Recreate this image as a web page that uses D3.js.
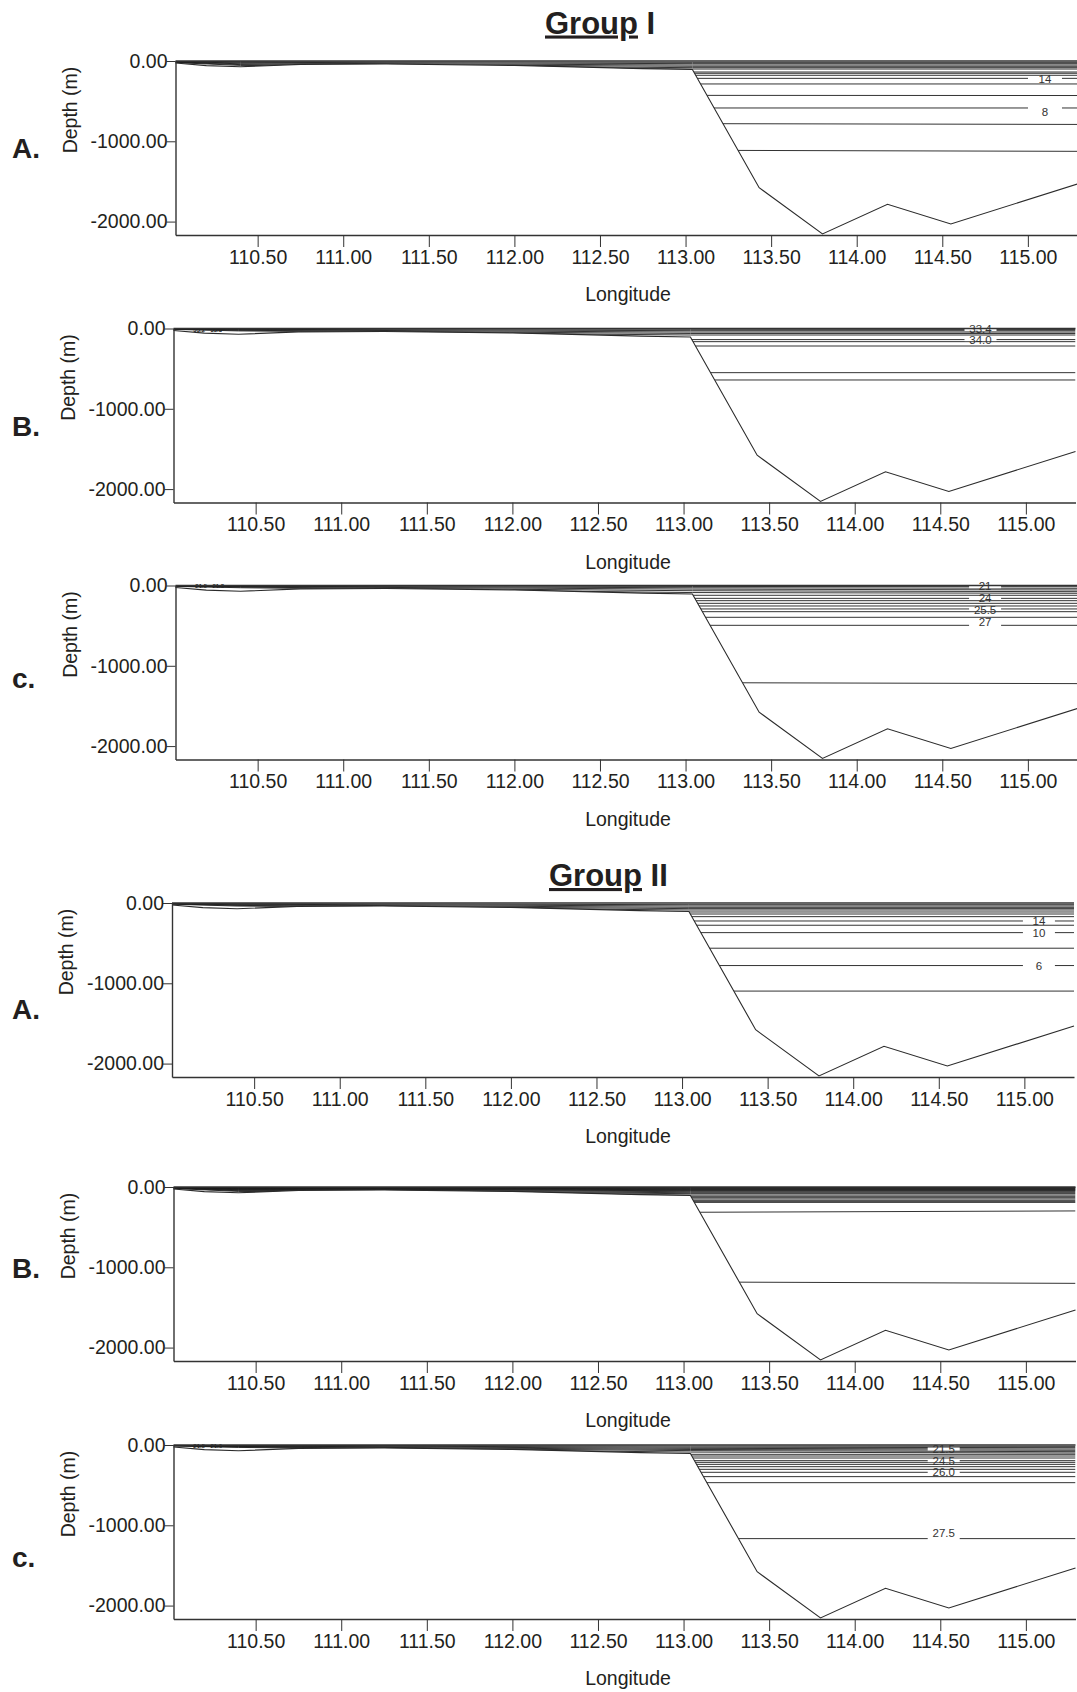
<!DOCTYPE html>
<meta charset="utf-8">
<style>
  body { margin: 0; background: #fff; }
  svg { font-family: "Liberation Sans", Arial, sans-serif; }
  .contour { fill: none; stroke: #1c1c1c; stroke-width: 0.9; }
  .bottom { fill: none; stroke: #2b2b2b; stroke-width: 1.1; }
  .surface { fill: none; stroke: #333; stroke-width: 1.4; }
  .axis path { stroke: #333; stroke-width: 1.4; }
  .axis line { stroke: #333; stroke-width: 1; }
  .axis text { fill: #231f20; font-size: 19.5px; }
  .clabel { font-size: 11.5px; fill: #333; }
</style>
<svg width="1077" height="1692"></svg>
<script src="https://d3js.org/d3.v7.min.js"></script>
<script>

// bathymetry along the section (same for every panel)
var bathyLon   = [110.02, 110.2, 110.4, 110.75, 111.25, 112.0, 112.75, 113.04, 113.43, 113.80, 114.18, 114.55, 115.29];
var bathyDepth = [-25, -58, -72, -42, -38, -55, -95, -105, -1578, -2154, -1785, -2030, -1532];

// contour depths read at these longitudes
var contourLon = [110.02, 110.4, 113.04, 115.29];

var xTicks = [110.5, 111, 111.5, 112, 112.5, 113, 113.5, 114, 114.5, 115];
var yTicks = [0, -1000, -2000];

// Group I
var tempI = [
  [-3, -8, -17, -17], [-6, -16, -33, -33], [-9, -25, -50, -50], [-12, -35, -66, -66],
  [-16, -45, -83, -83], [-20, -55, -100, -100],
  [-137, -137, -137, -137], [-153, -153, -153, -153], [-178, -178, -178, -178],
  [-216, -216, -216, -216], [-286, -286, -286, -286], [-428, -428, -428, -430],
  [-585, -585, -585, -585], [-780, -780, -780, -790], [-1112, -1112, -1112, -1125]
];
var tempILabels = [["14", -226, -216], ["8", -630, -585]];

var salI = [
  [-3, -5, -10, -12], [-5, -10, -27, -27], [-7, -16, -44, -44], [-9, -22, -62, -62],
  [-11, -30, -81, -81],
  [-138, -138, -138, -138], [-164, -164, -164, -164], [-218, -218, -218, -218],
  [-550, -550, -550, -550], [-641, -641, -641, -641]
];
var salILabels = [["33.4", -8, -12], ["34.0", -140, -138]];
var salITiny = [["33.2", 110.17, -12], ["33.3", 110.27, -12]];

var densI = [
  [-2, -4, -12, -15], [-4, -9, -28, -35], [-6, -14, -45, -56], [-8, -20, -65, -77],
  [-11, -28, -88, -97],
  [-122, -122, -122, -122], [-160, -160, -160, -160], [-189, -189, -189, -189],
  [-222, -222, -222, -222], [-255, -255, -255, -255], [-292, -292, -292, -292],
  [-326, -326, -326, -326], [-396, -396, -396, -396], [-496, -496, -496, -496],
  [-1210, -1210, -1210, -1222]
];
var densILabels = [["21", -10, -15], ["24", -152, -160], ["25.5", -300, -292], ["27", -458, -496]];
var densITiny = [["21.5", 110.17, -10], ["21.8", 110.27, -10]];

// Group II
var tempII = [
  [-3, -8, -21, -21], [-6, -15, -37, -37], [-9, -22, -54, -54], [-12, -30, -70, -70],
  [-15, -38, -87, -87],
  [-112, -112, -112, -112], [-137, -137, -137, -137], [-170, -170, -170, -170],
  [-224, -224, -224, -224], [-277, -277, -277, -277], [-369, -369, -369, -369],
  [-563, -563, -563, -563], [-779, -779, -779, -779], [-1097, -1097, -1097, -1097]
];
var tempIILabels = [["14", -224, -224], ["10", -369, -369], ["6", -790, -779]];

var salII = [
  [-1, -4, -5, -5], [-2, -7, -9, -9], [-3, -10, -14, -14], [-4, -13, -21, -21],
  [-5, -17, -27, -27], [-6, -21, -33, -33], [-8, -25, -40, -40], [-9, -29, -46, -46],
  [-11, -34, -58, -58], [-13, -40, -71, -71], [-15, -47, -83, -83], [-18, -55, -100, -100],
  [-116, -116, -116, -116], [-133, -133, -133, -133], [-149, -149, -149, -149],
  [-166, -166, -166, -166], [-183, -183, -183, -183], [-191, -191, -191, -191],
  [-315, -315, -315, -298], [-1183, -1183, -1183, -1200]
];

var densII = [
  [-2, -4, -14, -17], [-4, -8, -28, -33], [-6, -13, -42, -50], [-8, -18, -56, -66],
  [-10, -24, -70, -83], [-12, -30, -88, -100],
  [-116, -116, -116, -116], [-137, -137, -137, -137], [-162, -162, -162, -162],
  [-195, -195, -195, -195], [-216, -216, -216, -216], [-241, -241, -241, -241],
  [-270, -270, -270, -270], [-303, -303, -303, -303], [-340, -340, -340, -340],
  [-394, -394, -394, -394], [-469, -469, -469, -469], [-1166, -1166, -1166, -1166]
];
var densIILabels = [["21.5", -50, -50], ["24.5", -195, -195], ["26.0", -340, -340], ["27.5", -1100, -1166]];
var densIITiny = [["21.5", 110.17, -10], ["21.6", 110.27, -10]];

var titles = [["Group", " I", 545, 33.5], ["Group", " II", 549, 886]];

var panels = [
  {top: 61,    shift: 0.5,  letter: "A.", letterY: 158,  lines: tempI,  labels: tempILabels,  labelLon: 115.10, gap: 34, tiny: []},
  {top: 328.5, shift: -1.5, letter: "B.", letterY: 436,  lines: salI,   labels: salILabels,   labelLon: 114.735, gap: 32, tiny: salITiny},
  {top: 585.5, shift: 0.5,  letter: "c.", letterY: 688,  lines: densI,  labels: densILabels,  labelLon: 114.75, gap: 32, tiny: densITiny},
  {top: 903,   shift: -3,   letter: "A.", letterY: 1019, lines: tempII, labels: tempIILabels, labelLon: 115.085, gap: 32, tiny: []},
  {top: 1187,  shift: -1.5, letter: "B.", letterY: 1278, lines: salII,  labels: [],           labelLon: 115, gap: 32, tiny: []},
  {top: 1445,  shift: -1.5, letter: "c.", letterY: 1567, lines: densII, labels: densIILabels, labelLon: 114.52, gap: 32, tiny: densIITiny}
];

var svg = d3.select("svg");
var plotH = 174;
var fmt = function(d) { return d.toFixed(2); };

titles.forEach(function(t) {
  var tx = svg.append("text")
      .attr("x", t[2]).attr("y", t[3])
      .style("font-size", "31px").style("font-weight", "bold").attr("fill", "#231f20");
  tx.append("tspan").attr("text-decoration", "underline").text(t[0]);
  tx.append("tspan").text(t[1]);
});

var bathy = d3.zip(bathyLon, bathyDepth);

panels.forEach(function(p, i) {
  var x = d3.scaleLinear().domain([110.02, 115.29]).range([175 + p.shift, 1077 + p.shift]),
      y = d3.scaleLinear().domain([0, -2167]).range([p.top, p.top + plotH]),
      g = svg.append("g");

  var water = d3.area()
      .x(function(d) { return x(d[0]); })
      .y0(y(0))
      .y1(function(d) { return y(d[1]); });
  var line = d3.line()
      .x(function(d) { return x(d[0]); })
      .y(function(d) { return y(d[1]); });

  g.append("clipPath").attr("id", "water" + i)
    .append("path").attr("d", water(bathy));

  var cg = g.append("g").attr("clip-path", "url(#water" + i + ")");
  cg.selectAll("path.contour")
    .data(p.lines)
    .join("path")
      .attr("class", "contour")
      .attr("d", function(d) { return line(d3.zip(contourLon, d)); });

  // contour labels: break the labelled line, then write the value
  p.labels.forEach(function(l) {
    cg.append("rect")
        .attr("x", x(p.labelLon) - p.gap / 2)
        .attr("y", y(l[2]) - 1.5)
        .attr("width", p.gap).attr("height", 3)
        .attr("fill", "#fff");
    g.append("text")
        .attr("class", "clabel")
        .attr("x", x(p.labelLon)).attr("y", y(l[1]))
        .attr("dy", "0.35em")
        .attr("text-anchor", "middle")
        .text(l[0]);
  });

  p.tiny.forEach(function(l) {
    g.append("text")
        .attr("x", x(l[1])).attr("y", y(l[2]))
        .attr("dy", "0.35em").attr("text-anchor", "middle")
        .style("font-size", "6px").style("font-weight", "bold")
        .attr("fill", "#222")
        .text(l[0]);
  });

  g.append("path")
      .attr("class", "bottom")
      .attr("d", line(bathy));

  g.append("path")
      .attr("class", "surface")
      .attr("d", line([[110.02, 0], [115.29, 0]]));

  g.append("g")
      .attr("class", "axis")
      .attr("transform", "translate(0," + (p.top + plotH) + ")")
      .call(d3.axisBottom(x).tickValues(xTicks).tickFormat(fmt).tickSize(12).tickSizeOuter(0).tickPadding(3));

  g.append("g")
      .attr("class", "axis")
      .attr("transform", "translate(" + (175 + p.shift) + ",0)")
      .call(d3.axisLeft(y).tickValues(yTicks).tickFormat(fmt).tickSize(9).tickSizeOuter(0).tickPadding(-1));

  g.append("text")
      .attr("x", 628).attr("y", p.top + plotH + 66)
      .attr("text-anchor", "middle")
      .style("font-size", "19.5px").attr("fill", "#231f20")
      .text("Longitude");

  g.append("text")
      .attr("transform", "translate(" + (76 + p.shift) + "," + (p.top + 49) + ") rotate(-90)")
      .attr("text-anchor", "middle")
      .style("font-size", "19.5px").attr("fill", "#231f20")
      .text("Depth (m)");

  g.append("text")
      .attr("x", 12).attr("y", p.letterY)
      .style("font-size", "28px").style("font-weight", "bold").attr("fill", "#231f20")
      .text(p.letter);
});

</script>
